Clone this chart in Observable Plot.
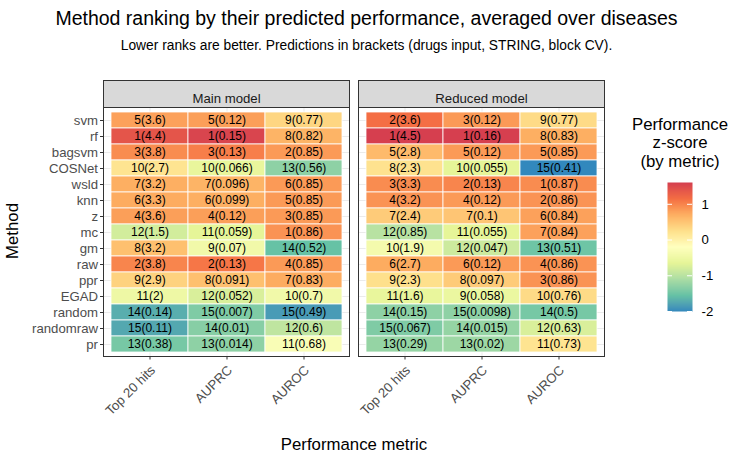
<!DOCTYPE html>
<html>
<head>
<meta charset="utf-8">
<script src="https://cdn.jsdelivr.net/npm/d3@7"></script>
<script src="https://cdn.jsdelivr.net/npm/@observablehq/plot@0.6"></script>
<style>
  html, body { margin: 0; padding: 0; background: #fff; }
  #fig { position: relative; width: 733px; height: 462px; font-family: "Liberation Sans", Arial, Helvetica, sans-serif; overflow: hidden; }
  .abs { position: absolute; white-space: nowrap; }
</style>
</head>
<body>
<div id="fig">
  <div class="abs" style="left:0;width:733px;top:6px;text-align:center;font-size:19.5px;line-height:24px;color:#000;">Method ranking by their predicted performance, averaged over diseases</div>
  <div class="abs" style="left:0;width:733px;top:37px;text-align:center;font-size:13.8px;line-height:18px;color:#000;">Lower ranks are better. Predictions in brackets (drugs input, STRING, block CV).</div>
  <div id="chart" class="abs" style="left:0;top:70px;"></div>
  <div id="legend" class="abs" style="left:620px;top:100px;"></div>
  <div class="abs" style="left:13px;top:231px;font-size:16.8px;line-height:20px;color:#000;transform:translate(-50%,-50%) rotate(-90deg);">Method</div>
  <div class="abs" style="left:354px;top:445px;font-size:16.8px;line-height:20px;color:#000;transform:translate(-50%,-50%);">Performance metric</div>
</div>
<script>
// ---- data ----
const methods = ["svm","rf","bagsvm","COSNet","wsld","knn","z","mc","gm","raw","ppr","EGAD","random","randomraw","pr"];
const metrics = ["Top 20 hits","AUPRC","AUROC"];
const models = ["Main model","Reduced model"];

// Main model
const mainTop20Rank  = [5,1,3,10,7,6,4,12,8,2,9,11,14,15,13];
const mainTop20Value = [3.6,4.4,3.8,2.7,3.2,3.3,3.6,1.5,3.2,3.8,2.9,2,0.14,0.11,0.38];
const mainTop20Z     = [0.8,1.4,0.95,0.2,0.7,0.72,0.82,-0.8,0.55,1.0,0.38,-0.5,-1.7,-1.75,-1.45];

const mainAuprcRank  = [5,1,3,10,7,6,4,11,9,2,8,12,15,14,13];
const mainAuprcValue = [0.12,0.15,0.13,0.066,0.096,0.099,0.12,0.059,0.07,0.13,0.091,0.052,0.007,0.01,0.014];
const mainAuprcZ     = [0.82,1.55,1.05,-0.6,0.65,0.7,0.82,-0.65,-0.45,1.1,0.55,-0.75,-1.4,-1.35,-1.3];

const mainAurocRank  = [9,8,2,13,6,5,3,1,14,4,7,10,15,12,11];
const mainAurocValue = [0.77,0.82,0.85,0.56,0.85,0.85,0.85,0.86,0.52,0.85,0.83,0.7,0.49,0.6,0.68];
const mainAurocZ     = [0.35,0.65,0.85,-1.3,0.85,0.85,0.85,0.9,-1.55,0.85,0.72,-0.45,-1.85,-0.95,-0.3];

// Reduced model
const redTop20Rank  = [2,1,5,8,3,4,7,12,10,6,9,11,14,15,13];
const redTop20Value = [3.6,4.5,2.8,2.3,3.3,3.2,2.4,0.85,1.9,2.7,2.3,1.6,0.15,0.067,0.29];
const redTop20Z     = [1.15,1.6,0.6,0.22,0.95,0.9,0.45,-1.0,-0.4,0.72,0.25,-0.6,-1.3,-1.4,-1.25];

const redAuprcRank  = [3,1,5,10,2,4,7,11,12,6,8,9,15,14,13];
const redAuprcValue = [0.12,0.16,0.12,0.055,0.13,0.12,0.1,0.055,0.047,0.12,0.097,0.058,0.0098,0.015,0.02];
const redAuprcZ     = [0.85,1.6,0.85,-0.65,1.0,0.85,0.5,-0.65,-0.85,0.85,0.45,-0.55,-1.3,-1.25,-1.2];

const redAurocRank  = [9,8,5,15,1,2,6,7,13,4,3,10,14,12,11];
const redAurocValue = [0.77,0.83,0.85,0.41,0.87,0.86,0.84,0.84,0.51,0.86,0.86,0.76,0.5,0.63,0.73];
const redAurocZ     = [0.3,0.7,0.85,-2.0,0.95,0.9,0.8,0.8,-1.5,0.9,0.9,0.3,-1.45,-0.75,0.2];

const zLimits = [-2.0, 1.61];
const legendTicks = [-2, -1, 0, 1];
const spectral = ["#3288BD","#66C2A5","#ABDDA4","#E6F598","#FFFFBF","#FEE08B","#FDAE61","#F46D43","#D53E4F"];

// ---- table ----
const table = {
  "Main model": [[mainTop20Rank, mainTop20Value, mainTop20Z], [mainAuprcRank, mainAuprcValue, mainAuprcZ], [mainAurocRank, mainAurocValue, mainAurocZ]],
  "Reduced model": [[redTop20Rank, redTop20Value, redTop20Z], [redAuprcRank, redAuprcValue, redAuprcZ], [redAurocRank, redAurocValue, redAurocZ]]
};
const rows = [];
for (const model of models) {
  metrics.forEach((metric, k) => {
    const [r, v, z] = table[model][k];
    methods.forEach((method, i) => rows.push({model, metric, method, rank: r[i], value: v[i], z: z[i]}));
  });
}

const colorScale = {type: "linear", domain: zLimits, interpolate: d3.piecewise(d3.interpolateLab, spectral), clamp: true};

const W = 733, H = 392, mT = 37, mB = 106, mL = 103, mR = 129;
const frameH = H - mT - mB;

const chart = Plot.plot({
  width: W, height: H,
  marginTop: mT, marginBottom: mB, marginLeft: mL, marginRight: mR,
  style: {fontFamily: "'Liberation Sans', Arial, Helvetica, sans-serif", background: "white"},
  fx: {domain: models, paddingInner: 0.036, paddingOuter: 0, axis: null, label: null},
  x: {domain: metrics, paddingInner: 0, paddingOuter: 0.0974, label: null},
  y: {domain: methods, paddingInner: 0, paddingOuter: 0.12, label: null},
  color: colorScale,
  marks: [
    Plot.gridY({stroke: "#ebebeb", strokeOpacity: 1, strokeWidth: 1}),
    Plot.gridX({stroke: "#ebebeb", strokeOpacity: 1, strokeWidth: 1}),
    Plot.cell(rows, {fx: "model", x: "metric", y: "method", fill: "z", stroke: "white", strokeWidth: 0.8}),
    Plot.text(rows, {fx: "model", x: "metric", y: "method", text: d => `${d.rank}(${d.value})`, fontSize: 12, fill: "black"}),
    Plot.frame({stroke: "#333333", strokeWidth: 1}),
    Plot.frame({fill: "#d9d9d9", stroke: "#333333", strokeWidth: 1, insetTop: -27, insetBottom: frameH}),
    Plot.text(models, {fx: d => d, text: d => d, frameAnchor: "top", dy: -13.5, fontSize: 13.2, fill: "#1a1a1a"}),
    Plot.axisY({anchor: "left", facetAnchor: "left", tickSize: 3, tickPadding: 2.5, fontSize: 13.2, color: "#4d4d4d", stroke: "#333333", label: null}),
    Plot.axisX({anchor: "bottom", tickSize: 0, tickPadding: 5.5, tickRotate: -45, dx: 3, dy: 6, fontSize: 13.2, fill: "#4d4d4d", label: null}),
    Plot.axisX({anchor: "bottom", tickSize: 3.5, text: null, stroke: "#333333", label: null})
  ]
});
document.getElementById("chart").appendChild(chart);

// ---- legend ----
const LW = 113, LH = 230, lT = 82, lB = 19, lL = 47, lR = 41;
const legend = Plot.plot({
  width: LW, height: LH,
  marginTop: lT, marginBottom: lB, marginLeft: lL, marginRight: lR,
  style: {fontFamily: "'Liberation Sans', Arial, Helvetica, sans-serif", background: "transparent", overflow: "visible"},
  x: {domain: [0, 1], axis: null},
  y: {domain: zLimits, axis: null},
  color: colorScale,
  marks: [
    Plot.raster({x1: 0, x2: 1, y1: zLimits[0], y2: zLimits[1], width: 2, height: 260, fill: (x, y) => y, imageRendering: "auto"}),
    Plot.ruleY(legendTicks, {y: d => d, x1: 0, x2: 0.2, stroke: "white", strokeWidth: 1}),
    Plot.ruleY(legendTicks, {y: d => d, x1: 0.8, x2: 1, stroke: "white", strokeWidth: 1}),
    Plot.axisY({anchor: "right", ticks: legendTicks, tickFormat: d => String(d), tickSize: 0, tickPadding: 9, fontSize: 13.2, color: "black", label: null}),
    Plot.text(["Performance\nz-score\n(by metric)"], {frameAnchor: "top", text: d => d, lineAnchor: "top", dy: -66, fontSize: 16.8, lineHeight: 1.1, fill: "black"})
  ]
});
document.getElementById("legend").appendChild(legend);
</script>
</body>
</html>
